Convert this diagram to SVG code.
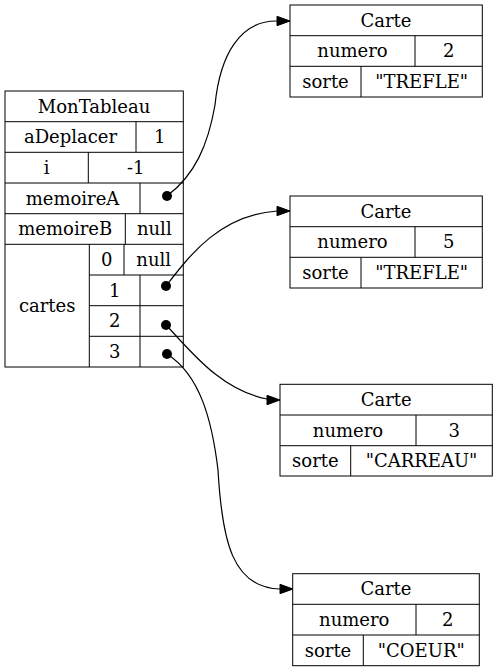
<svg xmlns="http://www.w3.org/2000/svg" width="497" height="672" viewBox="0 0 497 672">
<defs>
<style>
.b{fill:none;stroke:#000;stroke-width:1}
.t{font-family:"DejaVu Serif","Liberation Serif",serif;font-size:18px;text-anchor:middle;fill:#000}
.e{fill:none;stroke:#000;stroke-width:1.2}
.a{fill:#000;stroke:#000}
.d{fill:#000}
</style>
</defs>
<rect width="497" height="672" fill="#fff"/>
<g id="MonTableau">
<rect class="b" x="5" y="91" width="178.3" height="276"/>
<path class="b" d="M5,121.7H183.3M5,152.3H183.3M5,183H183.3M5,213.7H183.3M5,244.3H183.3M89.3,275H183.3M89.3,305.7H183.3M89.3,336.3H183.3M136,121.7V152.3M88.3,152.3V183M140,183V213.7M125.3,213.7V244.3M89.3,244.3V367M124,244.3V275M140,275V367"/>
<text class="t" x="94" y="112.6">MonTableau</text>
<text class="t" x="70.5" y="143.3">aDeplacer</text>
<text class="t" x="159.7" y="143.3">1</text>
<text class="t" x="46.7" y="174">i</text>
<text class="t" x="135.8" y="174">-1</text>
<text class="t" x="72.5" y="204.6">memoireA</text>
<text class="t" x="65.2" y="235.3">memoireB</text>
<text class="t" x="154.3" y="235.3">null</text>
<text class="t" x="47.2" y="312">cartes</text>
<text class="t" x="106.7" y="266">0</text>
<text class="t" x="153.7" y="266">null</text>
<text class="t" x="114.7" y="296.6">1</text>
<text class="t" x="114.7" y="327.3">2</text>
<text class="t" x="114.7" y="358">3</text>
<circle class="d" cx="167" cy="196" r="5"/>
<circle class="d" cx="166" cy="286" r="5"/>
<circle class="d" cx="166" cy="325" r="5"/>
<circle class="d" cx="167" cy="354" r="5"/>
</g>
<g id="Carte1">
<rect class="b" x="290" y="5" width="192.3" height="92"/>
<path class="b" d="M290,35.7H482.3M290,66.3H482.3M415,35.7V66.3M361,66.3V97"/>
<text class="t" x="386" y="26.6">Carte</text>
<text class="t" x="352.5" y="57.3">numero</text>
<text class="t" x="448.7" y="57.3">2</text>
<text class="t" x="325.5" y="88">sorte</text>
<text class="t" x="421.7" y="88">"TREFLE"</text>
</g>
<g id="Carte2">
<rect class="b" x="290" y="196" width="192.3" height="92"/>
<path class="b" d="M290,226.7H482.3M290,257.3H482.3M415,226.7V257.3M361,257.3V288"/>
<text class="t" x="386" y="217.6">Carte</text>
<text class="t" x="352.5" y="248.3">numero</text>
<text class="t" x="448.7" y="248.3">5</text>
<text class="t" x="325.5" y="279">sorte</text>
<text class="t" x="421.7" y="279">"TREFLE"</text>
</g>
<g id="Carte3">
<rect class="b" x="280" y="384.3" width="212.3" height="91.7"/>
<path class="b" d="M280,415H492.3M280,445.7H492.3M416,415V445.7M350.7,445.7V476"/>
<text class="t" x="386.2" y="406">Carte</text>
<text class="t" x="348" y="436.6">numero</text>
<text class="t" x="454.2" y="436.6">3</text>
<text class="t" x="315.4" y="467.1">sorte</text>
<text class="t" x="421.5" y="467.1">"CARREAU"</text>
</g>
<g id="Carte4">
<rect class="b" x="292.7" y="573.7" width="186.6" height="92"/>
<path class="b" d="M292.7,604.3H479.3M292.7,635H479.3M416,604.3V635M363.3,635V665.7"/>
<text class="t" x="386" y="595.3">Carte</text>
<text class="t" x="354.3" y="626">numero</text>
<text class="t" x="447.7" y="626">2</text>
<text class="t" x="328" y="656.6">sorte</text>
<text class="t" x="421.3" y="656.6">"COEUR"</text>
</g>
<g id="connectors">
<path class="e" d="M167,196 C195,175 208,145 215,105 C220,55 240,20 278,21"/>
<polygon class="a" points="290,21 277,16.3 277,25.7"/>
<path class="e" d="M166,286 C190,255 220,215 277,211"/>
<polygon class="a" points="290,211 277,206.3 277,215.7"/>
<path class="e" d="M166,325 C190,350 220,390 267,399"/>
<polygon class="a" points="280,400 267,395.3 267,404.7"/>
<path class="e" d="M167,354 C200,375 212,420 218,470 C222,540 232,588 280,589"/>
<polygon class="a" points="293,589 280,584.3 280,593.7"/>
</g>
</svg>
